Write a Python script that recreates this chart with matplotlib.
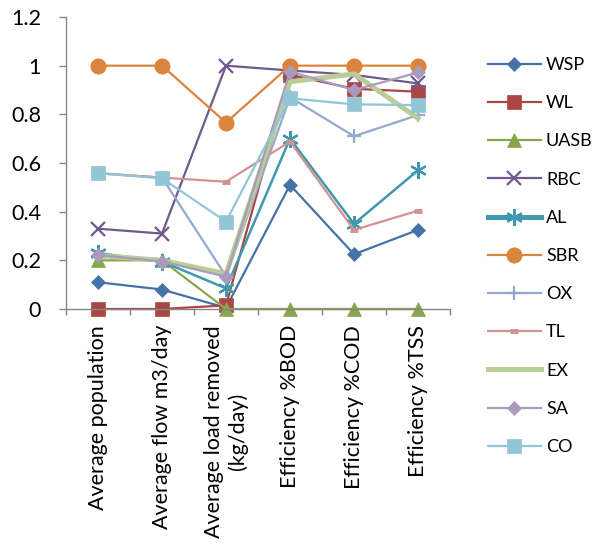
import matplotlib
matplotlib.use("Agg")
from matplotlib import pyplot as plt

plt.rcParams['font.family'] = ['Lato', 'DejaVu Sans']

categories = ["Average population", "Average flow m3/day",
              "Average load removed\n(kg/day)", "Efficiency %BOD",
              "Efficiency %COD", "Efficiency %TSS"]

WSP = [0.11, 0.08, 0.005, 0.51, 0.225, 0.325]
WL = [0.0, 0.0, 0.015, 0.962, 0.905, 0.893]
UASB = [0.2, 0.2, 0.0, 0.0, 0.0, 0.0]
RBC = [0.33, 0.31, 1.0, 0.98, 0.962, 0.927]
AL = [0.23, 0.195, 0.085, 0.70, 0.35, 0.57]
SBR = [1.0, 1.0, 0.766, 1.0, 1.0, 1.0]
OX = [0.558, 0.54, 0.135, 0.87, 0.71, 0.797]
TL = [0.558, 0.54, 0.523, 0.688, 0.325, 0.404]
EX = [0.22, 0.2, 0.145, 0.934, 0.966, 0.784]
SA = [0.222, 0.195, 0.133, 0.976, 0.90, 0.972]
CO = [0.558, 0.537, 0.359, 0.866, 0.841, 0.838]

# name, values, colour, marker, marker size, line width, legend line width
series = [
    ("WSP", WSP, "#4572A7", "D", 7.5, 1.6, 1.6),
    ("WL", WL, "#AA4643", "s", 10.5, 1.6, 1.6),
    ("UASB", UASB, "#89A54E", "^", 10.5, 1.6, 1.6),
    ("RBC", RBC, "#71588F", "x", 10, 1.6, 1.6),
    ("AL", AL, "#4198AF", (6, 2, 0), 12, 1.8, 3.6),
    ("SBR", SBR, "#DB843D", "o", 11, 1.6, 1.6),
    ("OX", OX, "#93A9CF", "+", 10, 1.6, 1.6),
    ("TL", TL, "#D19392", "_", 6, 1.6, 1.6),
    ("EX", EX, "#B9CD96", None, 0, 3.6, 3.6),
    ("SA", SA, "#A99BBD", "D", 7.5, 1.6, 1.6),
    ("CO", CO, "#92C5D6", "s", 10.5, 1.6, 1.6),
]

fs = 15.5
leg_fs = 13
fig = plt.figure(figsize=(5.97, 5.48), dpi=100)
ax = fig.add_axes([66 / 597, 1 - 309 / 548, 384 / 597, 292 / 548])

x = list(range(len(categories)))
for name, vals, col, mk, ms, lw, llw in series:
    if mk == "_":
        mew = 3.5
    elif mk in ("x", "+", (6, 2, 0)):
        mew = 1.6
    else:
        mew = 0.5
    ax.plot(x, vals, color=col, marker=mk, markersize=ms, linewidth=lw,
            markeredgewidth=mew, markeredgecolor=col, label=name,
            clip_on=False)

gray = "#868686"
ax.set_ylim(0, 1.2)
ax.set_yticks([0, 0.2, 0.4, 0.6, 0.8, 1, 1.2])
ax.set_yticklabels(["0", "0.2", "0.4", "0.6", "0.8", "1", "1.2"])
ax.set_xlim(-0.5, len(categories) - 0.5)
ax.set_xticks(x)
ax.set_xticklabels(categories, rotation=90, multialignment="center")
ax.set_xticks([i - 0.5 for i in range(len(categories) + 1)], minor=True)
ax.tick_params(axis="x", which="major", length=0, pad=11.5, labelsize=fs)
ax.tick_params(axis="x", which="minor", length=4.5, color=gray, width=1)
ax.tick_params(axis="y", length=5, color=gray, width=1, labelsize=fs, pad=13)

for s in ("top", "right"):
    ax.spines[s].set_visible(False)
for s in ("left", "bottom"):
    ax.spines[s].set_color(gray)
    ax.spines[s].set_linewidth(1)

leg = ax.legend(loc="upper left", bbox_to_anchor=(488 / 597, 1 - 57 / 548),
                bbox_transform=fig.transFigure, frameon=False, fontsize=leg_fs,
                handlelength=2.93, handletextpad=0.28, labelspacing=1.23,
                borderaxespad=0, borderpad=0)
for line, s in zip(leg.get_lines(), series):
    line.set_linewidth(s[6])

fig.savefig("out.png", dpi=100)
